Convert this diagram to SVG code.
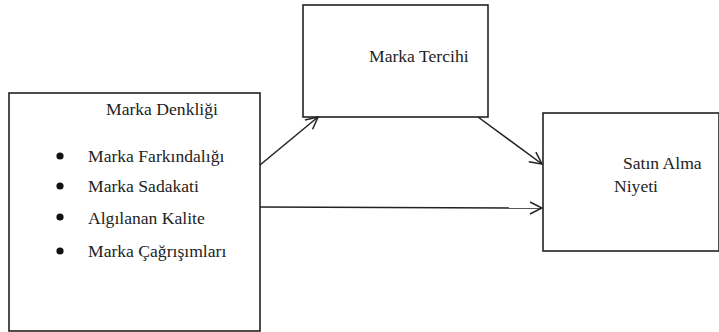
<svg xmlns="http://www.w3.org/2000/svg" width="719" height="332" viewBox="0 0 719 332">
<style>
.box{fill:#fff;stroke:#222;stroke-width:1.6}
.t{font-family:'Liberation Serif','Times New Roman',Times,serif;font-size:17.6px;fill:#222}
.c{fill:none;stroke:#222;stroke-width:1.5}
</style>
<defs>
<marker id="ah" viewBox="0 0 14 14" refX="13" refY="7" markerWidth="14" markerHeight="14" markerUnits="userSpaceOnUse" orient="auto">
<path d="M1,1 L13,7 L1,13" fill="none" stroke="#222" stroke-width="1.5"/>
</marker>
</defs>
<rect width="719" height="332" fill="#fff"/>
<g id="marka-denkligi">
<rect class="box" x="9" y="93" width="251" height="238"/>
<text class="t" x="106" y="115" font-family="Liberation Serif">Marka Denkliği</text>
<circle cx="60" cy="156" r="3.6" fill="#111"/>
<text class="t" x="88" y="162">Marka Farkındalığı</text>
<circle cx="60" cy="186" r="3.6" fill="#111"/>
<text class="t" x="88" y="192">Marka Sadakati</text>
<circle cx="60" cy="217" r="3.6" fill="#111"/>
<text class="t" x="88" y="224">Algılanan Kalite</text>
<circle cx="60" cy="251" r="3.6" fill="#111"/>
<text class="t" x="88" y="257">Marka Çağrışımları</text>
</g>
<g id="marka-tercihi">
<rect class="box" x="303" y="5" width="185" height="112"/>
<text class="t" x="369" y="62">Marka Tercihi</text>
</g>
<g id="satin-alma-niyeti">
<rect class="box" x="543" y="113" width="176" height="138"/>
<text class="t" x="623" y="169">Satın Alma</text>
<text class="t" x="614" y="192">Niyeti</text>
</g>
<g id="connectors">
<line class="c" x1="260" y1="165" x2="318" y2="117" marker-end="url(#ah)"/>
<line class="c" x1="478" y1="117" x2="542" y2="164" marker-end="url(#ah)"/>
<line class="c" x1="260" y1="207" x2="542" y2="208" marker-end="url(#ah)"/>
</g>
</svg>
